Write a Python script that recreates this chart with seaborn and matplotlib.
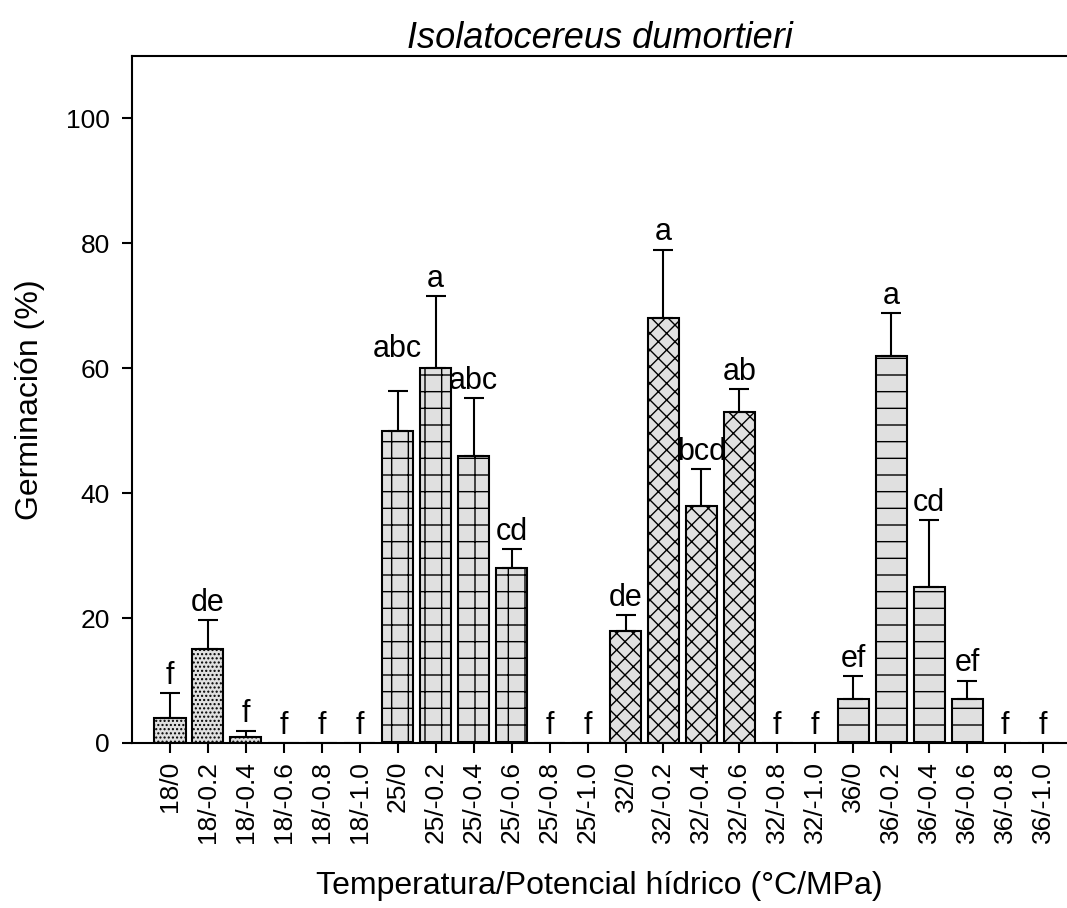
import numpy as np
import matplotlib
matplotlib.use('Agg')
import matplotlib.pyplot as plt
import seaborn as sns

# Data
categories = ['18/0', '18/-0.2', '18/-0.4', '18/-0.6', '18/-0.8', '18/-1.0',
              '25/0', '25/-0.2', '25/-0.4', '25/-0.6', '25/-0.8', '25/-1.0',
              '32/0', '32/-0.2', '32/-0.4', '32/-0.6', '32/-0.8', '32/-1.0',
              '36/0', '36/-0.2', '36/-0.4', '36/-0.6', '36/-0.8', '36/-1.0']
germination = [4, 15, 1, 0, 0, 0,
               50, 60, 46, 28, 0, 0,
               18, 68, 38, 53, 0, 0,
               7, 62, 25, 7, 0, 0]
error_upper = [4.0, 4.7, 0.9, 0, 0, 0,
               6.3, 11.5, 9.2, 3.0, 0, 0,
               2.5, 11.0, 5.8, 3.7, 0, 0,
               3.7, 6.8, 10.7, 3.0, 0, 0]
letters = ['f', 'de', 'f', 'f', 'f', 'f',
           'abc', 'a', 'abc', 'cd', 'f', 'f',
           'de', 'a', 'bcd', 'ab', 'f', 'f',
           'ef', 'a', 'cd', 'ef', 'f', 'f']

sns.set_style('ticks')
plt.rcParams['font.family'] = ['Liberation Sans', 'DejaVu Sans']
plt.rcParams['hatch.linewidth'] = 1.0
plt.rcParams['hatch.color'] = '#222222'
for key in ['text.color', 'axes.labelcolor', 'xtick.color', 'ytick.color']:
    plt.rcParams[key] = 'black'

fig = plt.figure(figsize=(10.67, 9.08), dpi=100)
ax = fig.add_axes([132 / 1067, (908 - 743) / 908, 1 - 132 / 1067, (743 - 56) / 908])

sns.barplot(x=categories, y=germination, order=categories, color='#e0e0e0',
            edgecolor='black', linewidth=1.5, width=0.82, errorbar=None,
            saturation=1, ax=ax)

# fill pattern per temperature
hatch_map = {'18': '....', '25': '+', '32': 'xx', '36': '-'}
for patch, cat in zip(ax.patches, categories):
    patch.set_hatch(hatch_map[cat.split('/')[0]])
    patch.set_facecolor('#e0e0e0')

x = np.arange(len(categories))
has_err = np.array(error_upper) > 0
ax.errorbar(x[has_err], np.array(germination)[has_err],
            yerr=[np.zeros(has_err.sum()), np.array(error_upper)[has_err]],
            fmt='none', ecolor='black', elinewidth=1.5, capsize=7.5, capthick=1.5)

# letters over the bars
for i, (g, e, lab) in enumerate(zip(germination, error_upper, letters)):
    y = g + e + 1.5
    if categories[i] == '25/0':
        y = g + e + 5.5
    ax.text(i, y, lab, ha='center', va='baseline', fontsize=22)

ax.set_xlim(-1.0, 23.63)
ax.set_ylim(0, 110)
ax.set_yticks([0, 20, 40, 60, 80, 100])
ax.tick_params(axis='both', direction='out', length=7, width=1.5, labelsize=19)
ax.tick_params(axis='x', rotation=90, pad=6)
ax.tick_params(axis='y', pad=9)
for side in ['left', 'bottom', 'top']:
    ax.spines[side].set_linewidth(1.5)
    ax.spines[side].set_color('black')
ax.spines['right'].set_visible(False)

ax.set_xlabel('Temperatura/Potencial hídrico (°C/MPa)', fontsize=23, labelpad=20)
ax.set_ylabel('Germinación (%)', fontsize=23, labelpad=15)
ax.set_title('Isolatocereus dumortieri', fontsize=26, style='italic', pad=3)

fig.savefig('out.png', dpi=100)
